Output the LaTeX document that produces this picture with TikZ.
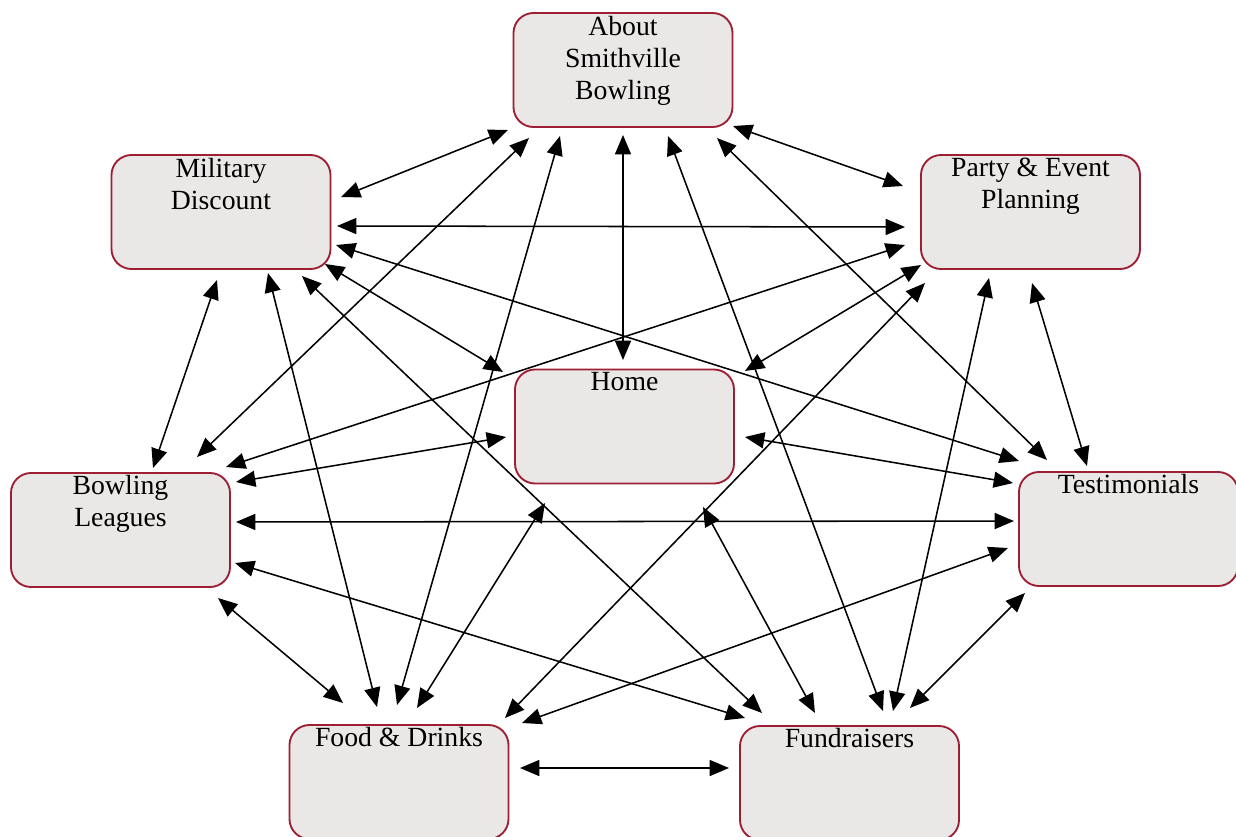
\documentclass[tikz,border=0pt]{standalone}
\usepackage{fontspec}
\setmainfont{Liberation Serif}
\usetikzlibrary{calc,arrows.meta}
\definecolor{boxred}{RGB}{158,30,52}
\definecolor{boxfill}{RGB}{234,232,231}
\tikzset{
  pagebox/.style={draw=boxred, line width=1.4pt, fill=boxfill, rounded corners=15pt,
    minimum width=164.25pt, minimum height=85.5pt, inner sep=0pt},
  lbl/.style={anchor=north, align=center, inner sep=0pt,
    font=\fontsize{20.8}{24}\selectfont},
  arr/.style={line width=1.15pt, {Triangle[length=14.5pt,width=12pt]}-{Triangle[length=14.5pt,width=12pt]}}
}
\begin{document}
\begin{tikzpicture}[x=0.75pt,y=-0.75pt]
\useasboundingbox (0,0) rectangle (1236,836);
\clip (0,0) rectangle (1236,836);
\fill[white] (0,0) rectangle (1236,836);
% boxes
\node[pagebox] (about) at (623,70) {};
\node[pagebox] (mil) at (221,212) {};
\node[pagebox] (party) at (1030.5,212) {};
\node[pagebox] (home) at (624.5,426.5) {};
\node[pagebox] (bowl) at (120.5,530) {};
\node[pagebox] (test) at (1128.5,529) {};
\node[pagebox] (food) at (399,782) {};
\node[pagebox] (fund) at (849.5,783) {};
% labels
\node[lbl] (aboutT) at ($(about.north)+(0,3.5)$) {About\\Smithville\\Bowling};
\node[lbl] (milT) at ($(mil.north)+(0,3.5)$) {Military\\Discount};
\node[lbl] (partyT) at ($(party.north)+(0,3.5)$) {Party \& Event\\Planning};
\node[lbl] (homeT) at ($(home.north)+(0,4)$) {Home};
\node[lbl] (bowlT) at ($(bowl.north)+(0,3)$) {Bowling\\Leagues};
\node[lbl] (testT) at ($(test.north)+(0,3)$) {Testimonials};
\node[lbl] (foodT) at ($(food.north)+(0,3)$) {Food \& Drinks};
\node[lbl] (fundT) at ($(fund.north)+(0,3)$) {Fundraisers};
% connectors
\draw[arr] ($(about.center)+(-115,60)$) -- ($(mil.center)+(120,-15)$);
\draw[arr] ($(about.center)+(-94,68)$) -- ($(bowl.center)+(76.5,-73)$);
\draw[arr] ($(about.center)+(-63,66)$) -- ($(food.center)+(-2,-77)$);
\draw[arr] ($(about.center)+(0,65)$) -- ($(home.center)+(-1.5,-66.5)$);
\draw[arr] ($(about.center)+(45,66)$) -- ($(fund.center)+(33.5,-72)$);
\draw[arr] ($(about.center)+(94,68)$) -- ($(test.center)+(-81.5,-69)$);
\draw[arr] ($(about.center)+(110,56)$) -- ($(party.center)+(-127.5,-26)$);
\draw[arr] ($(mil.center)+(116,14)$) -- ($(party.center)+(-125.5,15)$);
\draw[arr] ($(mil.center)+(115,33)$) -- ($(test.center)+(-109.5,-68)$);
\draw[arr] ($(mil.center)+(104,52)$) -- ($(home.center)+(-121.5,-54.5)$);
\draw[arr] ($(mil.center)+(81,64)$) -- ($(fund.center)+(-87.5,-70)$);
\draw[arr] ($(mil.center)+(47,61)$) -- ($(food.center)+(-22,-75)$);
\draw[arr] ($(mil.center)+(-4,68)$) -- ($(bowl.center)+(32.5,-62)$);
\draw[arr] ($(party.center)+(-125.5,33)$) -- ($(bowl.center)+(105.5,-63)$);
\draw[arr] ($(party.center)+(-109.5,53)$) -- ($(home.center)+(120.5,-55.5)$);
\draw[arr] ($(party.center)+(-105.5,71)$) -- ($(food.center)+(106,-64)$);
\draw[arr] ($(party.center)+(-41.5,66)$) -- ($(fund.center)+(43.5,-72)$);
\draw[arr] ($(party.center)+(1.5,71)$) -- ($(test.center)+(-41.5,-63)$);
\draw[arr] ($(bowl.center)+(115.5,-48)$) -- ($(home.center)+(-118.5,10.5)$);
\draw[arr] ($(bowl.center)+(115.5,-8)$) -- ($(test.center)+(-114.5,-8)$);
\draw[arr] ($(bowl.center)+(114.5,33)$) -- ($(fund.center)+(-104.5,-65)$);
\draw[arr] ($(bowl.center)+(97.5,68)$) -- ($(food.center)+(-56,-79)$);
\draw[arr] ($(home.center)+(120.5,10.5)$) -- ($(test.center)+(-115.5,-46)$);
\draw[arr] ($(home.center)+(-79.5,76.5)$) -- ($(food.center)+(18,-74)$);
\draw[arr] ($(home.center)+(78.5,80.5)$) -- ($(fund.center)+(-34.5,-70)$);
\draw[arr] ($(test.center)+(-120.5,19)$) -- ($(food.center)+(123,-59)$);
\draw[arr] ($(test.center)+(-103.5,64)$) -- ($(fund.center)+(60.5,-75)$);
\draw[arr] ($(food.center)+(121,-14)$) -- ($(fund.center)+(-120.5,-15)$);
\end{tikzpicture}
\end{document}
